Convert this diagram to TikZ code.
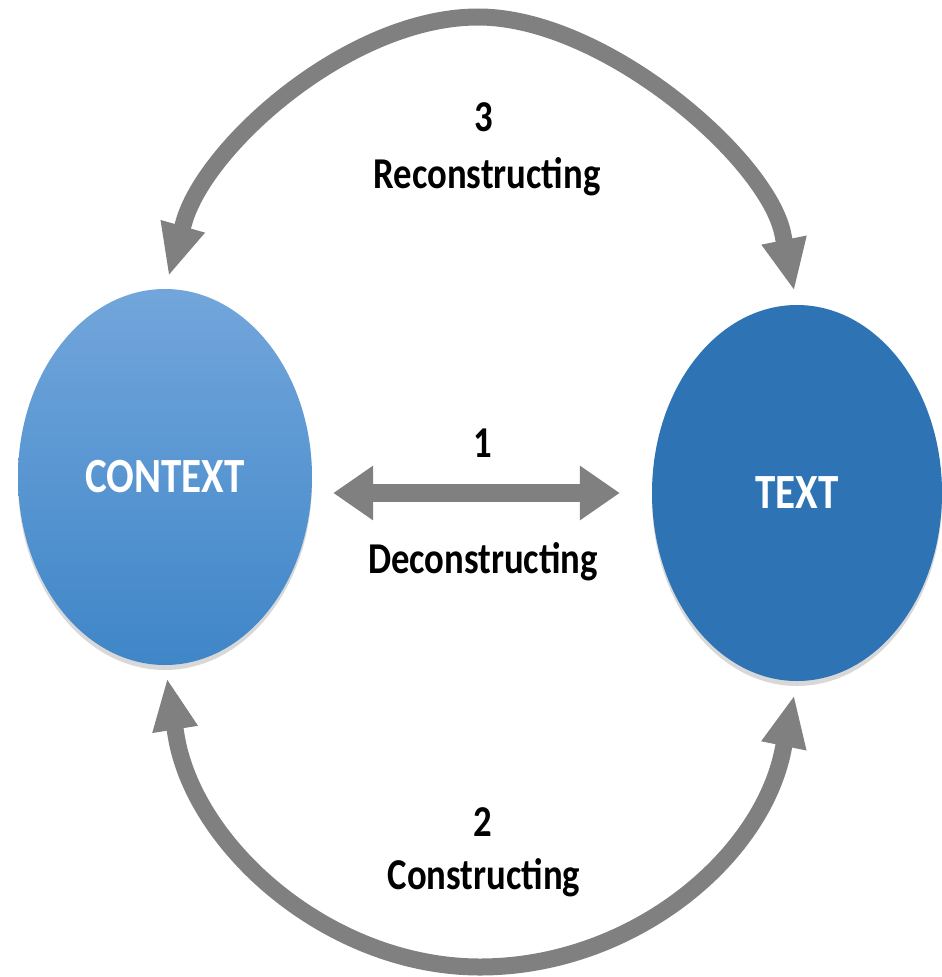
\documentclass[tikz,border=0pt]{standalone}
\usepackage{fontspec}
\setmainfont{Carlito}
\usetikzlibrary{arrows.meta,shadows,shapes.geometric}
\definecolor{arrgray}{HTML}{808080}
\definecolor{ctxtop}{HTML}{72A6DB}
\definecolor{ctxbot}{HTML}{3F86C8}
\definecolor{txtblue}{HTML}{2E74B5}
\newcommand\vstr[1]{\scalebox{1}[1.2]{#1}}
\begin{document}
\begin{tikzpicture}[x=1pt,y=-1pt,
  blob/.style={ellipse, inner sep=0pt, text=white,
    font=\fontsize{41}{45}\selectfont\bfseries,
    drop shadow={opacity=0.3,shadow xshift=0pt,shadow yshift=-5pt}},
  lab/.style={inner sep=0pt, text=black, font=\fontsize{36.7}{40}\selectfont\bfseries},
  arcarrow/.style={draw=arrgray, line width=17pt,
    {Triangle[length=52pt,width=42pt]}-{Triangle[length=52pt,width=42pt]},
    shorten <=13pt, shorten >=14pt},
  dblarrow/.style={draw=arrgray, line width=18pt,
    {Triangle[length=40pt,width=52pt]}-{Triangle[length=40pt,width=52pt]}}
]
\useasboundingbox (0,0) rectangle (942,977);
\fill[white] (0,0) rectangle (942,977);

\node[blob, minimum width=294pt, minimum height=376pt,
      top color=ctxtop, bottom color=ctxbot] (ctx) at (165,477) {\vstr{CONTEXT}};
\node[blob, minimum width=290pt, minimum height=376pt,
      fill=txtblue] (txt) at (797,493) {\vstr{TEXT}};

\coordinate (topapex) at (478,17);
\coordinate (botapex) at (480,967);
\coordinate (tl) at (184,222);
\coordinate (tr) at (783,235);
\coordinate (bl) at (176,735);
\coordinate (br) at (783,750);

% 3 Reconstructing (top arc)
\draw[arcarrow] (ctx.north) -- (tl) .. controls (206,145) and (350,17) .. (topapex)
  .. controls (605,17) and (769,160) .. (tr) -- (txt.north);
% 2 Constructing (bottom arc)
\draw[arcarrow] (ctx.south) -- (bl) .. controls (194,847) and (330,967) .. (botapex)
  .. controls (630,967) and (761,860) .. (br) -- (txt.south);
% 1 Deconstructing
\draw[dblarrow, shorten <=21pt, shorten >=32pt] (ctx.east |- txt.center) -- (txt.west);

\node[lab] (n3) at (484,117) {\vstr{3}};
\node[lab] (l3) at (487,177) {\vstr{Reconstructing}};
\node[lab] (n1) at (483,443) {\vstr{1}};
\node[lab] (l1) at (483,562) {\vstr{Deconstructing}};
\node[lab] (n2) at (483,822) {\vstr{2}};
\node[lab] (l2) at (484,878) {\vstr{Constructing}};
\end{tikzpicture}
\end{document}
